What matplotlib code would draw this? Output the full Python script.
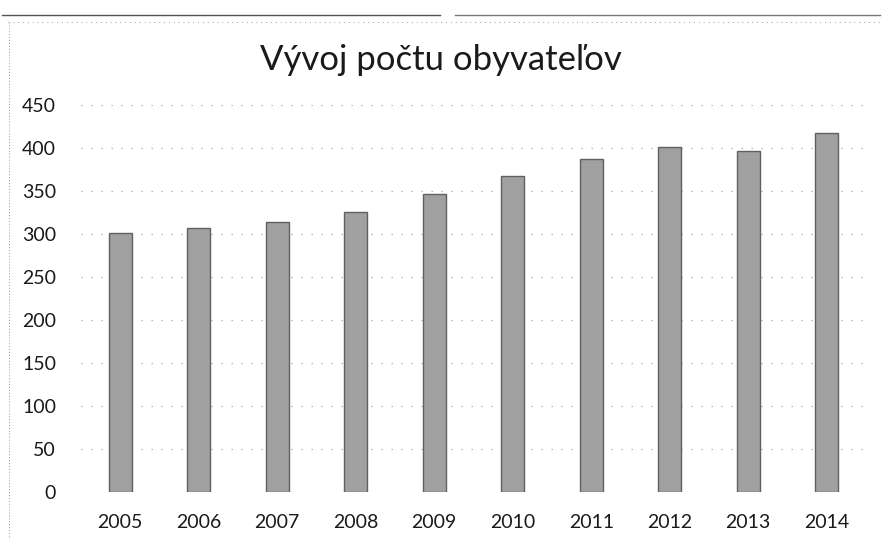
import matplotlib
matplotlib.use("Agg")
import matplotlib.pyplot as plt
from matplotlib.lines import Line2D

# Údaje z grafu
roky = ["2005", "2006", "2007", "2008", "2009", "2010", "2011", "2012", "2013", "2014"]
obyvatelia = [301, 307, 314, 326, 347, 367, 387, 401, 396, 417]
y_ticks = [0, 50, 100, 150, 200, 250, 300, 350, 400, 450]

plt.rcParams["font.family"] = ["Lato", "DejaVu Sans"]

W, H = 882, 539
fig = plt.figure(figsize=(W / 100, H / 100), dpi=100)
fig.patch.set_facecolor("white")

# plot area in pixel coords -> figure fractions
left, right, top, bottom = 81, 866, 105, 492
ax = fig.add_axes([left / W, 1 - bottom / H, (right - left) / W, (bottom - top) / H])

x = range(len(roky))
ax.bar(x, obyvatelia, width=0.29, color="#a0a0a0", edgecolor="#606060", linewidth=1.0, zorder=3)

ax.set_xlim(-0.5, len(roky) - 0.5)
ax.set_ylim(0, 450)
ax.set_yticks(y_ticks)
ax.set_xticks(list(x))
ax.set_xticklabels(roky)
ax.tick_params(axis="both", length=0, labelsize=14, colors="#1a1a1a")
ax.tick_params(axis="y", pad=18)
ax.tick_params(axis="x", pad=16)
ax.grid(axis="y", linestyle=(0, (1, 7)), color="#a8a8a8", linewidth=0.9, zorder=0)
for s in ax.spines.values():
    s.set_visible(False)

fig.text(441 / W, 1 - 60 / H, "Vývoj počtu obyvateľov", ha="center", va="center",
         fontsize=25, color="#1a1a1a")

# orámovanie grafu (okraj skenu)
fig.add_artist(Line2D([2 / W, 440 / W], [1 - 15 / H, 1 - 15 / H], transform=fig.transFigure,
                      color="#555555", linewidth=1.0))
fig.add_artist(Line2D([455 / W, 880 / W], [1 - 15 / H, 1 - 15 / H], transform=fig.transFigure,
                      color="#777777", linewidth=1.0))
fig.add_artist(Line2D([8 / W, 880 / W], [1 - 22 / H, 1 - 22 / H], transform=fig.transFigure,
                      color="#999999", linewidth=0.7, linestyle=(0, (1, 4))))
fig.add_artist(Line2D([9 / W, 9 / W], [1 - 22 / H, 1 - 539 / H], transform=fig.transFigure,
                      color="#999999", linewidth=0.7, linestyle=(0, (1, 2))))

fig.savefig("out.png", dpi=100, facecolor="white")
